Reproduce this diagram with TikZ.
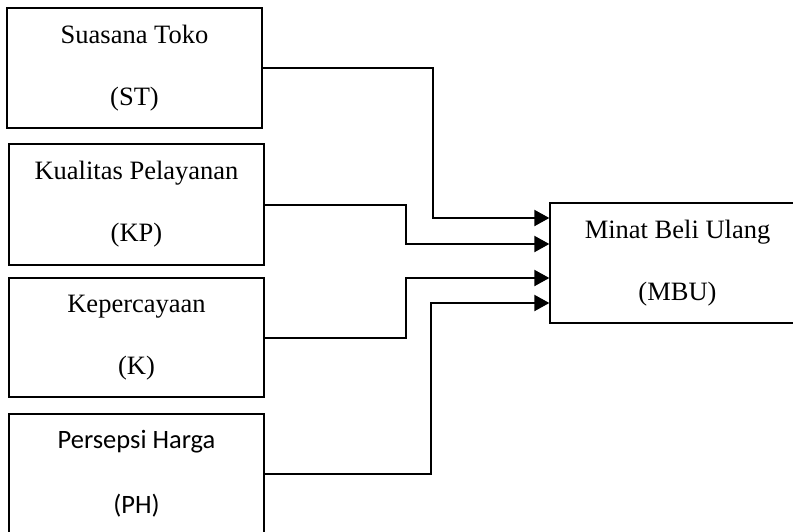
\documentclass[tikz,border=0pt]{standalone}
\usepackage{fontspec}
\setmainfont{Liberation Serif}
\newfontfamily\calibri{Carlito}
\usetikzlibrary{arrows.meta}
\begin{document}
\begin{tikzpicture}[x=1pt,y=-1pt,
  box/.style={draw,line width=1.3pt,minimum width=255pt,inner sep=0pt,align=center,
    font=\fontsize{26.5}{62}\selectfont},
  conn/.style={line width=2pt,-{Triangle[length=15pt,width=16pt]}}]
\useasboundingbox (0,0) rectangle (793,531);
\node[box,minimum height=120pt] (st) at (134.5,68) {Suasana Toko\\(ST)};
\node[box,minimum height=121pt] (kp) at (136.5,204.5) {Kualitas Pelayanan\\(KP)};
\node[box,minimum height=119pt] (k) at (136.5,337.5) {Kepercayaan\\(K)};
\node[box,minimum height=120pt,font=\calibri\fontsize{26.5}{65}\selectfont] (ph) at (136.5,474) {Persepsi Harga\\(PH)};
\node[box,minimum height=120pt] (mbu) at (677.5,263) {Minat Beli Ulang\\(MBU)};
\coordinate (a1) at (433,218);
\coordinate (a2) at (406,244);
\coordinate (a3) at (406,278);
\coordinate (a4) at (431,303);
\draw[conn] (st.east) -| (a1) -- (a1 -| mbu.west);
\draw[conn] (kp.east) -| (a2) -- (a2 -| mbu.west);
\draw[conn] (k.east) -| (a3) -- (a3 -| mbu.west);
\draw[conn] (ph.east) -| (a4) -- (a4 -| mbu.west);
\end{tikzpicture}
\end{document}
